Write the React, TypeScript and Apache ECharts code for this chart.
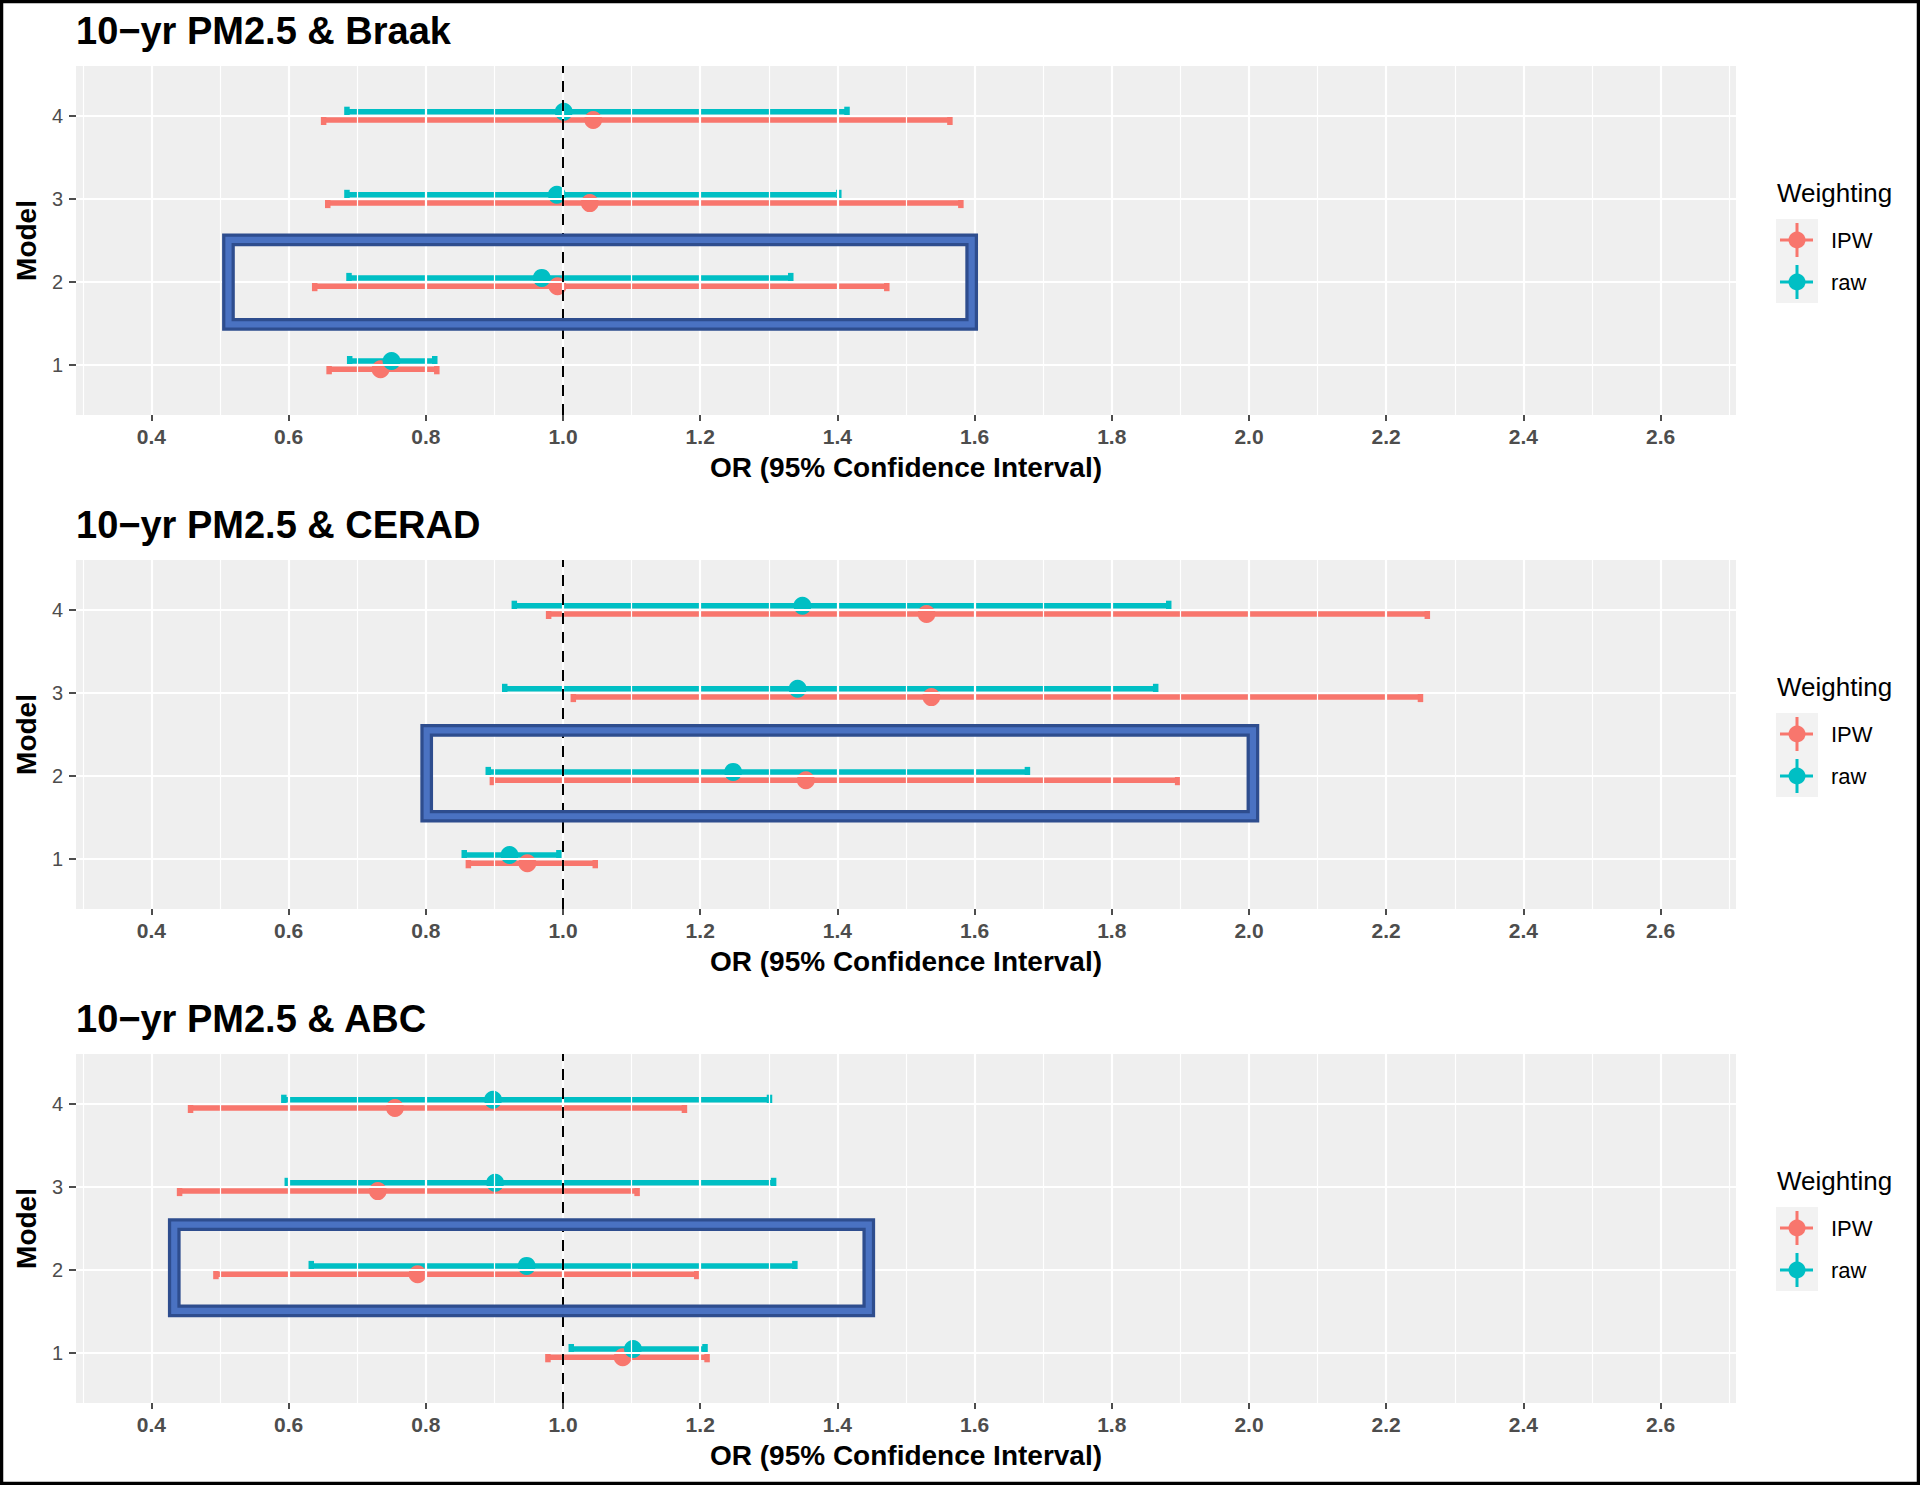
import React, { useEffect, useRef } from "react";
import * as echarts from "echarts";

// ---------- data ----------
const models = [1, 2, 3, 4];
const panelTitles = ["10−yr PM2.5 & Braak", "10−yr PM2.5 & CERAD", "10−yr PM2.5 & ABC"];
const seriesNames = ["IPW", "raw"];
const xMajorTicks = [0.4, 0.6, 0.8, 1.0, 1.2, 1.4, 1.6, 1.8, 2.0, 2.2, 2.4, 2.6];
const xMinorTicks = [0.3, 0.5, 0.7, 0.9, 1.1, 1.3, 1.5, 1.7, 1.9, 2.1, 2.3, 2.5, 2.7];
const referenceOR = 1.0;

// Braak
const braakIpwOR = [0.734, 0.992, 1.039, 1.044];
const braakIpwLow = [0.659, 0.638, 0.657, 0.651];
const braakIpwHigh = [0.816, 1.472, 1.58, 1.564];
const braakRawOR = [0.75, 0.969, 0.991, 1.001];
const braakRawLow = [0.689, 0.688, 0.685, 0.685];
const braakRawHigh = [0.813, 1.332, 1.402, 1.414];

// CERAD
const ceradIpwOR = [0.948, 1.354, 1.537, 1.53];
const ceradIpwLow = [0.862, 0.897, 1.015, 0.979];
const ceradIpwHigh = [1.047, 1.896, 2.25, 2.26];
const ceradRawOR = [0.922, 1.248, 1.342, 1.349];
const ceradRawLow = [0.856, 0.891, 0.915, 0.929];
const ceradRawHigh = [0.994, 1.677, 1.864, 1.883];

// ABC
const abcIpwOR = [1.087, 0.788, 0.73, 0.755];
const abcIpwLow = [0.978, 0.494, 0.441, 0.457];
const abcIpwHigh = [1.21, 1.195, 1.108, 1.177];
const abcRawOR = [1.102, 0.947, 0.901, 0.898];
const abcRawLow = [1.012, 0.633, 0.598, 0.593];
const abcRawHigh = [1.207, 1.338, 1.307, 1.301];

// highlight boxes (OR from, OR to, model from, model to)
const braakHighlight = [0.503, 1.605, 1.415, 2.585];
const ceradHighlight = [0.792, 2.015, 1.44, 2.625];
const abcHighlight = [0.424, 1.455, 1.432, 2.623];

const panels = [
  { ipw: [braakIpwOR, braakIpwLow, braakIpwHigh], raw: [braakRawOR, braakRawLow, braakRawHigh], box: braakHighlight },
  { ipw: [ceradIpwOR, ceradIpwLow, ceradIpwHigh], raw: [ceradRawOR, ceradRawLow, ceradRawHigh], box: ceradHighlight },
  { ipw: [abcIpwOR, abcIpwLow, abcIpwHigh], raw: [abcRawOR, abcRawLow, abcRawHigh], box: abcHighlight },
];

// ---------- styles ----------
const COLORS = { IPW: "#F8766D", raw: "#00BFC4" };
const DODGE = { IPW: -0.05, raw: 0.05 };
const FONT = "'Liberation Sans', Arial, Helvetica, sans-serif";
const PANEL_LEFT = 76;
const PANEL_WIDTH = 1660;
const PANEL_HEIGHT = 349;
const PANEL_TOPS = [66, 560, 1054];
const PANEL_STEP = 494;

function errorbarRender(color: string) {
  return (params: any, api: any) => {
    const y = api.value(2);
    const a = api.coord([api.value(0), y]);
    const b = api.coord([api.value(1), y]);
    const st = { stroke: color, lineWidth: 5.5, fill: "none" };
    const h = 5;
    return {
      type: "group",
      children: [
        { type: "line", shape: { x1: a[0], y1: a[1], x2: b[0], y2: b[1] }, style: st },
        { type: "line", shape: { x1: a[0], y1: a[1] - h, x2: a[0], y2: a[1] + h }, style: st },
        { type: "line", shape: { x1: b[0], y1: b[1] - h, x2: b[0], y2: b[1] + h }, style: st },
      ],
    };
  };
}

function boxRender(params: any, api: any) {
  const p0 = api.coord([api.value(0), api.value(3)]);
  const p1 = api.coord([api.value(1), api.value(2)]);
  const t = 12.7;
  const shape = { x: p0[0] + t / 2, y: p0[1] + t / 2, width: p1[0] - p0[0] - t, height: p1[1] - p0[1] - t };
  return {
    type: "group",
    children: [
      { type: "rect", shape, style: { fill: "none", stroke: "#2E4D8E", lineWidth: t } },
      { type: "rect", shape, style: { fill: "none", stroke: "#4A72C2", lineWidth: 6.2 } },
    ],
  };
}

function buildOption() {
  const grid: any[] = [];
  const xAxis: any[] = [];
  const yAxis: any[] = [];
  const title: any[] = [];
  const series: any[] = [];
  const graphic: any[] = [];

  panels.forEach((p, i) => {
    const top = PANEL_TOPS[i];
    grid.push({
      left: PANEL_LEFT, top, width: PANEL_WIDTH, height: PANEL_HEIGHT,
      show: true, backgroundColor: "#EFEFEF", borderWidth: 0,
    });
    xAxis.push({
      gridIndex: i, type: "value", min: 0.29, max: 2.71,
      name: "OR (95% Confidence Interval)", nameLocation: "middle", nameGap: 38,
      nameTextStyle: { fontSize: 28, fontWeight: "bold", color: "#000", fontFamily: FONT },
      axisLine: { show: false },
      axisTick: { show: true, length: 6, customValues: xMajorTicks, lineStyle: { color: "#4D4D4D", width: 2 } },
      axisLabel: {
        customValues: xMajorTicks, formatter: (v: number) => v.toFixed(1),
        fontSize: 21, fontWeight: "bold", color: "#4D4D4D", margin: 11, fontFamily: FONT,
      },
      splitLine: { show: false },
    });
    yAxis.push({
      gridIndex: i, type: "value", min: 0.4, max: 4.6,
      name: "Model", nameLocation: "middle", nameGap: 35, nameRotate: 90,
      nameTextStyle: { fontSize: 28, fontWeight: "bold", color: "#000", fontFamily: FONT },
      axisLine: { show: false },
      axisTick: { show: true, length: 7, customValues: models, lineStyle: { color: "#4D4D4D", width: 2 } },
      axisLabel: { customValues: models, fontSize: 20, color: "#4D4D4D", margin: 13, fontFamily: FONT },
      splitLine: { show: false },
    });
    title.push({
      text: panelTitles[i], left: PANEL_LEFT, top: 12 + PANEL_STEP * i, padding: 0,
      textStyle: { fontSize: 38, fontWeight: "bold", color: "#000", fontFamily: FONT },
    });

    // gridlines
    series.push({
      type: "line", data: [], xAxisIndex: i, yAxisIndex: i, z: 1, silent: true,
      markLine: {
        silent: true, symbol: ["none", "none"], label: { show: false }, animation: false,
        lineStyle: { color: "#FFFFFF", type: "solid", width: 2.2 },
        data: [
          ...xMinorTicks.map((v) => ({ xAxis: v, lineStyle: { color: "#FFFFFF", width: 1.2, type: "solid" } })),
          ...xMajorTicks.map((v) => ({ xAxis: v, lineStyle: { color: "#FFFFFF", width: 2.2, type: "solid" } })),
          ...models.map((v) => ({ yAxis: v, lineStyle: { color: "#FFFFFF", width: 2.2, type: "solid" } })),
        ],
      },
    });

    // error bars
    (["IPW", "raw"] as const).forEach((nm) => {
      const [or, lo, hi] = nm === "IPW" ? p.ipw : p.raw;
      series.push({
        type: "custom", name: nm, xAxisIndex: i, yAxisIndex: i, z: 2,
        renderItem: errorbarRender(COLORS[nm]),
        encode: { x: [0, 1], y: 2 },
        data: models.map((m, k) => [lo[k], hi[k], m + DODGE[nm]]),
      });
    });

    // reference line
    series.push({
      type: "line", data: [], xAxisIndex: i, yAxisIndex: i, z: 3, silent: true,
      markLine: {
        silent: true, symbol: ["none", "none"], label: { show: false }, animation: false,
        lineStyle: { color: "#000", width: 2, type: [11, 8] },
        data: [{ xAxis: referenceOR }],
      },
    });

    // points
    (["IPW", "raw"] as const).forEach((nm) => {
      const [or] = nm === "IPW" ? p.ipw : p.raw;
      series.push({
        type: "scatter", name: nm, xAxisIndex: i, yAxisIndex: i, z: 4,
        symbol: "circle", symbolSize: 18,
        itemStyle: { color: COLORS[nm], opacity: 1 },
        data: models.map((m, k) => [or[k], m + DODGE[nm]]),
      });
    });

    // highlight box
    series.push({
      type: "custom", xAxisIndex: i, yAxisIndex: i, z: 5, silent: true, clip: false,
      renderItem: boxRender,
      encode: { x: [0, 1], y: [2, 3] },
      data: [p.box],
    });

    // legend
    const dy = PANEL_STEP * i;
    graphic.push({
      type: "text", x: 1777, y: 193 + dy,
      style: { text: "Weighting", fontSize: 26, fill: "#000", fontFamily: FONT, verticalAlign: "middle", align: "left" },
    });
    graphic.push({
      type: "rect", shape: { x: 1776, y: 219 + dy, width: 42, height: 84 },
      style: { fill: "#F2F2F2" },
    });
    seriesNames.forEach((nm, k) => {
      const cy = 240 + 42 * k + dy;
      const col = (COLORS as any)[nm];
      graphic.push({ type: "line", shape: { x1: 1780, y1: cy, x2: 1813, y2: cy }, style: { stroke: col, lineWidth: 3 } });
      graphic.push({ type: "line", shape: { x1: 1797, y1: cy - 17, x2: 1797, y2: cy + 17 }, style: { stroke: col, lineWidth: 3 } });
      graphic.push({ type: "circle", shape: { cx: 1797, cy, r: 8.5 }, style: { fill: col } });
      graphic.push({
        type: "text", x: 1831, y: cy,
        style: { text: nm, fontSize: 22, fill: "#000", fontFamily: FONT, verticalAlign: "middle", align: "left" },
      });
    });
  });

  graphic.push({
    type: "rect", z: 100, shape: { x: 1.5, y: 1.5, width: 1917, height: 1482 },
    style: { fill: "none", stroke: "#000", lineWidth: 3.5 },
  });

  return {
    animation: false,
    backgroundColor: "#FFFFFF",
    textStyle: { fontFamily: FONT },
    title, grid, xAxis, yAxis, series, graphic,
  };
}

export default function App() {
  const ref = useRef<HTMLDivElement>(null);
  useEffect(() => {
    document.body.style.margin = "0";
    if (!ref.current) return;
    const chart = echarts.init(ref.current, undefined, { renderer: "svg" });
    chart.setOption(buildOption() as any);
    return () => chart.dispose();
  }, []);
  return <div ref={ref} style={{ width: 1920, height: 1485 }} />;
}
